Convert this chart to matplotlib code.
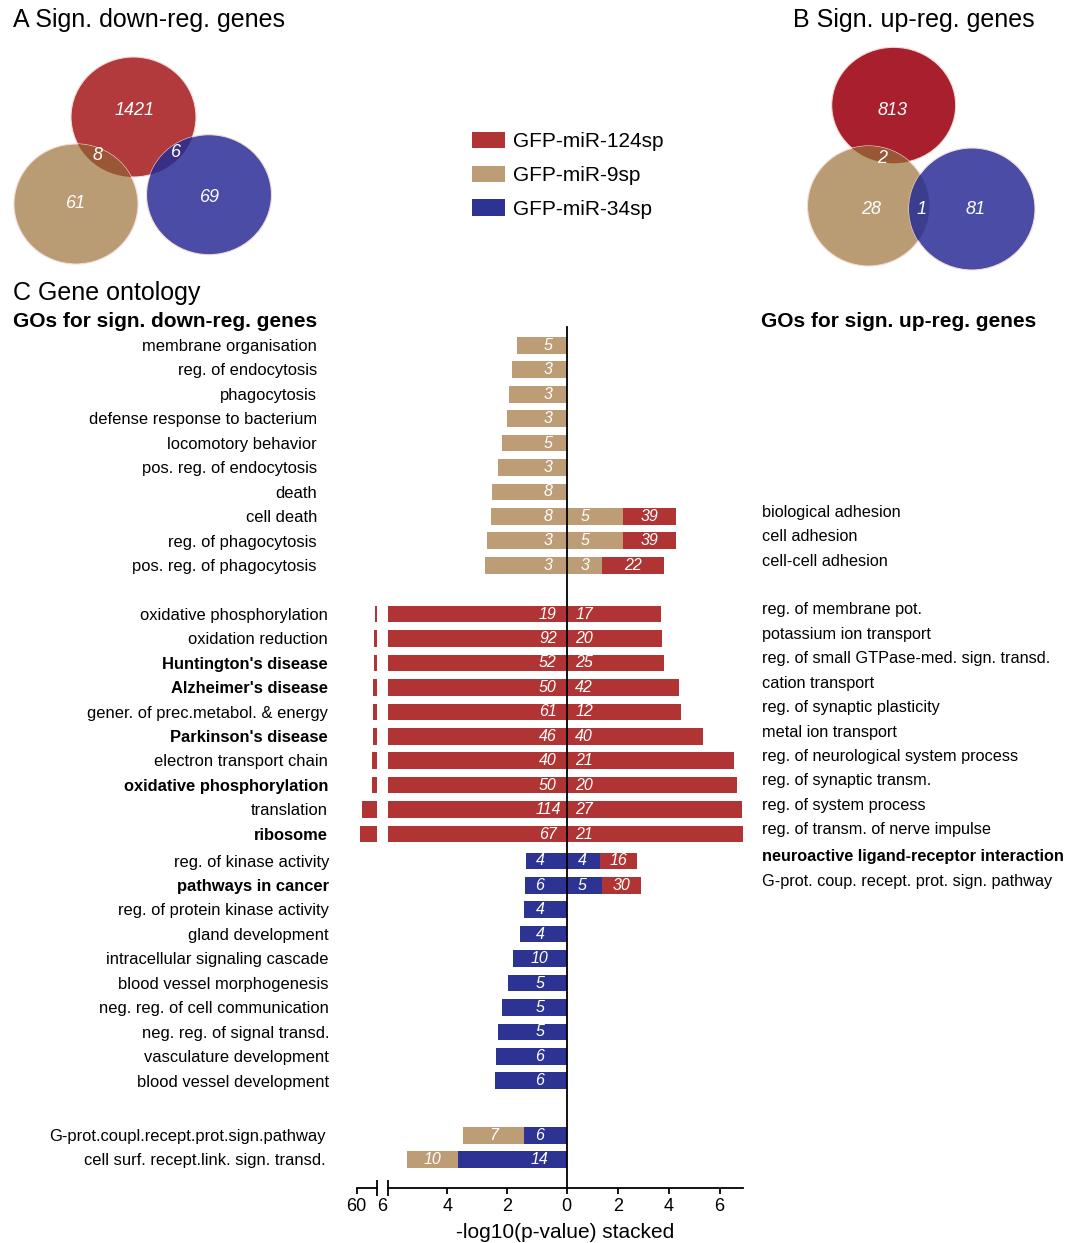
import matplotlib
matplotlib.use('Agg')
import matplotlib.pyplot as plt
import matplotlib.transforms as mtransforms
from matplotlib.patches import Ellipse, Patch
import numpy as np

plt.rcParams['font.family'] = ['Liberation Sans', 'DejaVu Sans']

# ---------------- colours ----------------
RED = '#b03434'
TAN = '#bd9d76'
BLUE = '#2c3393'

# ---------------- data: Venn counts ----------------
venn_series = ['GFP-miR-124sp', 'GFP-miR-9sp', 'GFP-miR-34sp']
# order: 124 only, 9 only, 34 only, 124&9, 124&34, 9&34
venn_down_counts = [1421, 61, 69, 8, 6, None]
venn_up_counts = [813, 28, 81, 2, None, 1]

# ---------------- data: GO terms (down-regulated) ----------------
down_groups = [10, 10, 10, 2]
down_labels = [
    'membrane organisation', 'reg. of endocytosis', 'phagocytosis',
    'defense response to bacterium', 'locomotory behavior',
    'pos. reg. of endocytosis', 'death', 'cell death',
    'reg. of phagocytosis', 'pos. reg. of phagocytosis',
    'oxidative phosphorylation', 'oxidation reduction', "Huntington's disease",
    "Alzheimer's disease", 'gener. of prec.metabol. & energy',
    "Parkinson's disease", 'electron transport chain',
    'oxidative phosphorylation', 'translation', 'ribosome',
    'reg. of kinase activity', 'pathways in cancer',
    'reg. of protein kinase activity', 'gland development',
    'intracellular signaling cascade', 'blood vessel morphogenesis',
    'neg. reg. of cell communication', 'neg. reg. of signal transd.',
    'vasculature development', 'blood vessel development',
    'G-prot.coupl.recept.prot.sign.pathway',
    'cell surf. recept.link. sign. transd.',
]
down_bold = [12, 13, 15, 17, 19, 21]

# -log10(p) contributions (stacked)
down_red = [0] * 10 + [12.0, 14.6, 15.4, 16.5, 16.5, 18.1, 19.9, 20.7, 46.9, 51.3] + [0] * 10 + [0, 0]
down_blue = [0] * 20 + [1.37, 1.40, 1.43, 1.56, 1.80, 1.98, 2.16, 2.30, 2.36, 2.40] + [1.42, 3.63]
down_tan = [1.68, 1.84, 1.93, 2.00, 2.18, 2.31, 2.50, 2.55, 2.67, 2.75] + [0] * 10 + [0] * 10 + [2.05, 1.73]
# gene counts written on the bars
down_red_n = [0] * 10 + [19, 92, 52, 50, 61, 46, 40, 50, 114, 67] + [0] * 10 + [0, 0]
down_blue_n = [0] * 20 + [4, 6, 4, 4, 10, 5, 5, 5, 6, 6] + [6, 14]
down_tan_n = [5, 3, 3, 3, 5, 3, 8, 8, 3, 3] + [0] * 10 + [0] * 10 + [7, 10]

# ---------------- data: GO terms (up-regulated) ----------------
up_rows = [7, 8, 9] + list(range(10, 20)) + [20, 21]   # row of the down list it shares
up_labels = [
    'biological adhesion', 'cell adhesion', 'cell-cell adhesion',
    'reg. of membrane pot.', 'potassium ion transport',
    'reg. of small GTPase-med. sign. transd.', 'cation transport',
    'reg. of synaptic plasticity', 'metal ion transport',
    'reg. of neurological system process', 'reg. of synaptic transm.',
    'reg. of system process', 'reg. of transm. of nerve impulse',
    'neuroactive ligand-receptor interaction',
    'G-prot. coup. recept. prot. sign. pathway',
]
up_bold = [13]
up_tan = [2.22, 2.22, 1.37] + [0] * 10 + [0, 0]
up_blue = [0, 0, 0] + [0] * 10 + [1.31, 1.40]
up_red = [2.07, 2.07, 2.45] + [3.69, 3.75, 3.82, 4.40, 4.48, 5.36, 6.55, 6.67, 6.87, 6.96] + [1.44, 1.50]
up_tan_n = [5, 5, 3] + [0] * 10 + [0, 0]
up_blue_n = [0, 0, 0] + [0] * 10 + [4, 5]
up_red_n = [39, 39, 22] + [17, 20, 25, 42, 12, 40, 21, 20, 27, 21] + [16, 30]

# ---------------- figure ----------------
W, H = 1075, 1243
fig = plt.figure(figsize=(W / 100, H / 100), dpi=100)


def fx(px):
    return px / W


def fy(py):
    return 1 - py / H


# background axes in pixel coordinates for Venn diagrams and headings
bg = fig.add_axes([0, 0, 1, 1])
bg.set_xlim(0, W)
bg.set_ylim(H, 0)
bg.axis('off')

# ---------------- Venn diagrams ----------------
VR_A, VT_A, VB_A = '#b23a3c', '#b99b74', '#4a4ca6'
VR_B = '#a81f2d'
LENS_RT = '#9a5736'
LENS_RB = '#3a2f84'
LENS_TB = '#3d3d8f'


def venn(centres, colours, counts, count_pos):
    patches = []
    for (cx, cy, rx, ry), col in zip(centres, colours):
        e = Ellipse((cx, cy), 2 * rx, 2 * ry, facecolor=col, edgecolor='#f2dcd4', lw=0.8)
        bg.add_patch(e)
        patches.append(e)
    pairs = [(0, 1, LENS_RT), (0, 2, LENS_RB), (1, 2, LENS_TB)]
    for i, j, col in pairs:
        cx, cy, rx, ry = centres[j]
        lens = Ellipse((cx, cy), 2 * rx, 2 * ry, facecolor=col, edgecolor='none')
        bg.add_patch(lens)
        lens.set_clip_path(patches[i])
    for n, pos in zip(counts, count_pos):
        if n is None:
            continue
        bg.text(pos[0], pos[1], str(n), color='white', style='italic',
                fontsize=13, ha='center', va='center')


venn([(133.5, 117, 62.5, 60), (76, 204, 62, 60), (209, 194.7, 62.5, 60)],
     [VR_A, VT_A, VB_A], venn_down_counts,
     [(135, 110), (76, 203), (210, 197), (98, 155), (176, 152), (0, 0)])
venn([(893.7, 105.3, 62, 58), (868.5, 206, 61, 60), (972, 209, 63, 61)],
     [VR_B, VT_A, VB_A], venn_up_counts,
     [(893, 110), (871, 209), (976, 209), (882, 158), (0, 0), (922, 209)])

# headings
bg.text(13, 20, 'A Sign. down-reg. genes', fontsize=18, ha='left', va='center')
bg.text(793, 20, 'B Sign. up-reg. genes', fontsize=18, ha='left', va='center')
bg.text(13, 293, 'C Gene ontology', fontsize=18, ha='left', va='center')
bg.text(13, 321, 'GOs for sign. down-reg. genes', fontsize=15, weight='bold', ha='left', va='center')
bg.text(761, 321, 'GOs for sign. up-reg. genes', fontsize=15, weight='bold', ha='left', va='center')

# legend
handles = [Patch(facecolor=c, edgecolor='none') for c in (RED, TAN, BLUE)]
fig.legend(handles, venn_series, loc='upper left', bbox_to_anchor=(fx(472), fy(132)),
           frameon=False, fontsize=15, handlelength=1.6, handleheight=0.82,
           handletextpad=0.38, labelspacing=0.69, borderpad=0, borderaxespad=0)

# ---------------- bar chart axes ----------------
top_px, bot_px = 327, 1188.3
ax_b, ax_h = fy(bot_px), (bot_px - top_px) / H
axL = fig.add_axes([fx(387.7), ax_b, fx(566.7 - 387.7), ax_h])
axR = fig.add_axes([fx(566.7), ax_b, fx(743.3 - 566.7), ax_h])
axO = fig.add_axes([fx(356.7), ax_b, fx(377.3 - 356.7), ax_h])

group_starts = [0, 11, 21.1, 32.33]
row_y = np.concatenate([s + np.arange(n) for s, n in zip(group_starts, down_groups)])
up_y = row_y[up_rows]

for ax in (axL, axR, axO):
    ax.set_ylim(34.5, -0.75)
    ax.set_yticks([])
    ax.patch.set_alpha(0)
    for s in ('top', 'right', 'left'):
        ax.spines[s].set_visible(False)
    ax.spines['bottom'].set_linewidth(1.3)
    ax.tick_params(axis='x', length=4.5, width=1.3, labelsize=13, pad=2.5)

axL.set_xlim(6, 0)
axR.set_xlim(0, 6.93)
axO.set_xlim(60, 6)
axR.spines['left'].set_visible(True)
axR.spines['left'].set_linewidth(1.3)

axL.set_xticks([4, 2, 0])
axR.set_xticks([2, 4, 6])
axO.set_xticks([60])

BH = 0.68
inset_left = {RED: 0.63, TAN: 0.62, BLUE: 0.9}
inset_right = {RED: 0.68, TAN: 0.71, BLUE: 0.6}


def draw_side(axes, y, series, inset):
    base = np.zeros(len(y))
    for vals, counts, col in series:
        vals = np.asarray(vals, float)
        for ax in axes:
            ax.barh(y, vals, left=base, height=BH, color=col, edgecolor='none')
        for yi, b, v, n in zip(y, base, vals, counts):
            if v <= 0:
                continue
            x = inset[col] if b == 0 else b + v / 2
            axes[0].text(x, yi, str(n), color='white', style='italic', fontsize=11.5,
                         ha='center', va='center')
        base = base + vals


draw_side([axL, axO], row_y,
          [(down_red, down_red_n, RED), (down_blue, down_blue_n, BLUE), (down_tan, down_tan_n, TAN)],
          inset_left)
draw_side([axR], up_y,
          [(up_tan, up_tan_n, TAN), (up_blue, up_blue_n, BLUE), (up_red, up_red_n, RED)],
          inset_right)

# axis break markers
for ax, xv in ((axL, 6), (axO, 6)):
    tr = mtransforms.blended_transform_factory(ax.transData, ax.transAxes)
    ax.plot([xv, xv], [-0.0093, 0.0093], transform=tr, color='black', lw=1.3,
            clip_on=False, solid_capstyle='butt')
# "6" label of the inner segment, next to the break
trL = mtransforms.blended_transform_factory(axL.transData, axL.transAxes) + \
    mtransforms.ScaledTranslation(-6 / 100, -(4.5 + 2.5) / 72, fig.dpi_scale_trans)
axL.text(6, 0, '6', transform=trL, fontsize=13, ha='center', va='top')

fig.text(fx(565), fy(1232), '-log10(p-value) stacked', fontsize=15, ha='center', va='center')

# category labels
label_x_px = [317, 328, 329, 326]
row_label_x = np.concatenate([[label_x_px[g]] * n for g, n in enumerate(down_groups)])
for i, (lab, yy) in enumerate(zip(down_labels, row_y)):
    tr = mtransforms.blended_transform_factory(fig.transFigure, axL.transData)
    axL.text(fx(row_label_x[i]), yy + 0.05, lab, transform=tr, ha='right', va='center',
             fontsize=11.9, weight='bold' if i in down_bold else 'normal')
for i, (lab, yy) in enumerate(zip(up_labels, up_y)):
    tr = mtransforms.blended_transform_factory(fig.transFigure, axR.transData)
    axR.text(fx(762), yy - 0.17, lab, transform=tr, ha='left', va='center',
             fontsize=11.7, weight='bold' if i in up_bold else 'normal', clip_on=False)

fig.savefig('out.png', dpi=100)
